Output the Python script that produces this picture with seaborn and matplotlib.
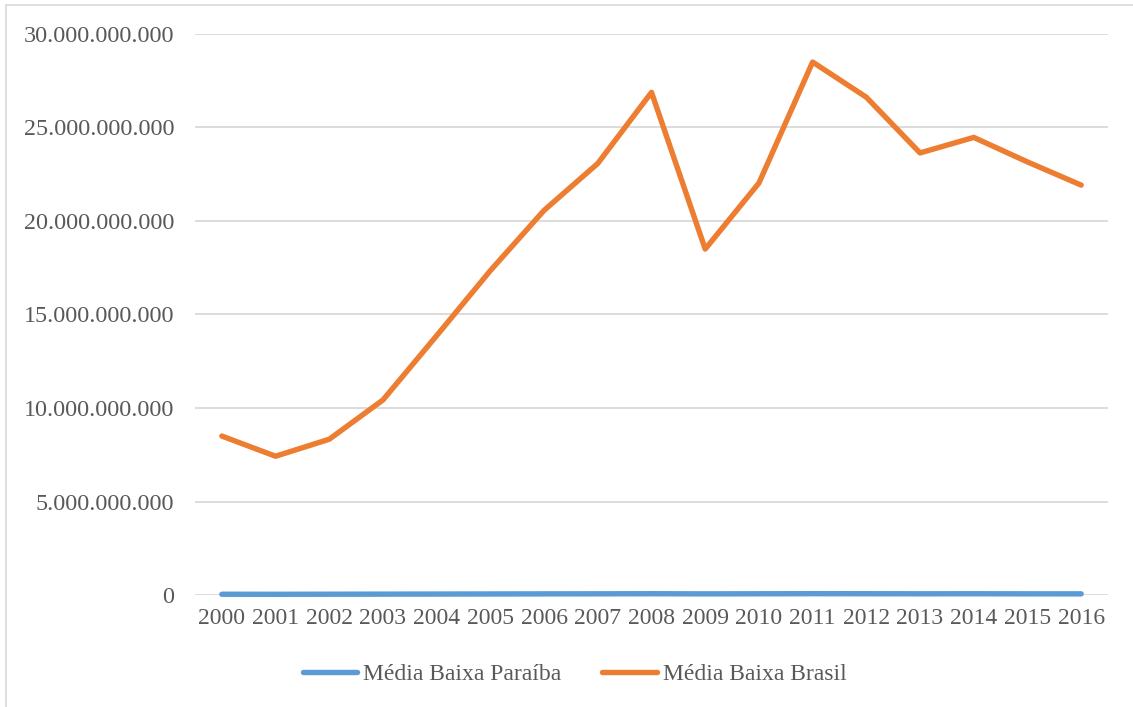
import matplotlib
matplotlib.use("Agg")
import matplotlib.pyplot as plt
import matplotlib.patches as mpatches
from matplotlib.ticker import FuncFormatter, MultipleLocator
import seaborn as sns
import pandas as pd

# Annual averages (R$)
anos = [2000, 2001, 2002, 2003, 2004, 2005, 2006, 2007, 2008,
        2009, 2010, 2011, 2012, 2013, 2014, 2015, 2016]
media_paraiba = [4.0e7, 3.8e7, 4.2e7, 4.6e7, 5.0e7, 5.5e7, 6.0e7, 6.3e7, 6.8e7,
                 6.0e7, 6.5e7, 7.0e7, 6.8e7, 6.4e7, 6.6e7, 6.2e7, 6.0e7]
media_brasil = [8.50e9, 7.42e9, 8.33e9, 10.43e9, 13.87e9, 17.35e9, 20.57e9, 23.08e9, 26.88e9,
                18.50e9, 22.03e9, 28.50e9, 26.62e9, 23.64e9, 24.47e9, 23.16e9, 21.92e9]
series = ["Média Baixa Paraíba", "Média Baixa Brasil"]
cores = ["#5b9bd5", "#ed7d31"]

df = pd.concat([
    pd.DataFrame({"Ano": [str(a) for a in anos], "Valor": media_paraiba, "Série": series[0]}),
    pd.DataFrame({"Ano": [str(a) for a in anos], "Valor": media_brasil, "Série": series[1]}),
])

sns.set_style("white")
plt.rcParams["font.family"] = ["Liberation Serif", "DejaVu Serif"]
texto = "#595959"

fig = plt.figure(figsize=(11.33, 7.07), dpi=100)
ax = fig.add_axes([195 / 1133, 1 - 595 / 707, (1108 - 195) / 1133, (595 - 34) / 707])

sns.lineplot(data=df, x="Ano", y="Valor", hue="Série", palette=cores,
             linewidth=3.9, ax=ax, legend=False, solid_capstyle="round",
             solid_joinstyle="round", sort=False)
# keep the near-zero series at full thickness on the baseline
for ln in ax.get_lines():
    ln.set_clip_on(False)

ax.set_ylim(0, 30e9)
ax.set_xlim(-0.5, len(anos) - 0.5)
ax.yaxis.set_major_locator(MultipleLocator(5e9))
ax.yaxis.set_major_formatter(FuncFormatter(lambda v, p: f"{v:,.0f}".replace(",", ".")))
ax.grid(axis="y", color="#d9d9d9", linewidth=1.3, zorder=0)
ax.set_axisbelow(True)
for s in ax.spines.values():
    s.set_visible(False)
ax.set_xlabel("")
ax.set_ylabel("")
ax.tick_params(axis="both", length=0, labelsize=17, labelcolor=texto)
ax.yaxis.set_tick_params(labelsize=17.4)
ax.tick_params(axis="y", pad=15)
ax.tick_params(axis="x", pad=9)

handles = [plt.Line2D([], [], color=c, linewidth=3.9, solid_capstyle="round") for c in cores]
fig.legend(handles, series, loc="center", bbox_to_anchor=(0.507, 1 - 674 / 707), ncol=2,
           frameon=False, fontsize=17, labelcolor=texto, handlelength=2.3,
           handletextpad=0.25, columnspacing=1.75)

# light frame around the chart area
fig.patches.append(mpatches.Rectangle((6 / 1133, -0.1), 1.2, 1.1 - 5 / 707,
                                      transform=fig.transFigure, fill=False,
                                      edgecolor="#d9d9d9", linewidth=1.2))

fig.savefig("out.png", dpi=100, facecolor="white")
